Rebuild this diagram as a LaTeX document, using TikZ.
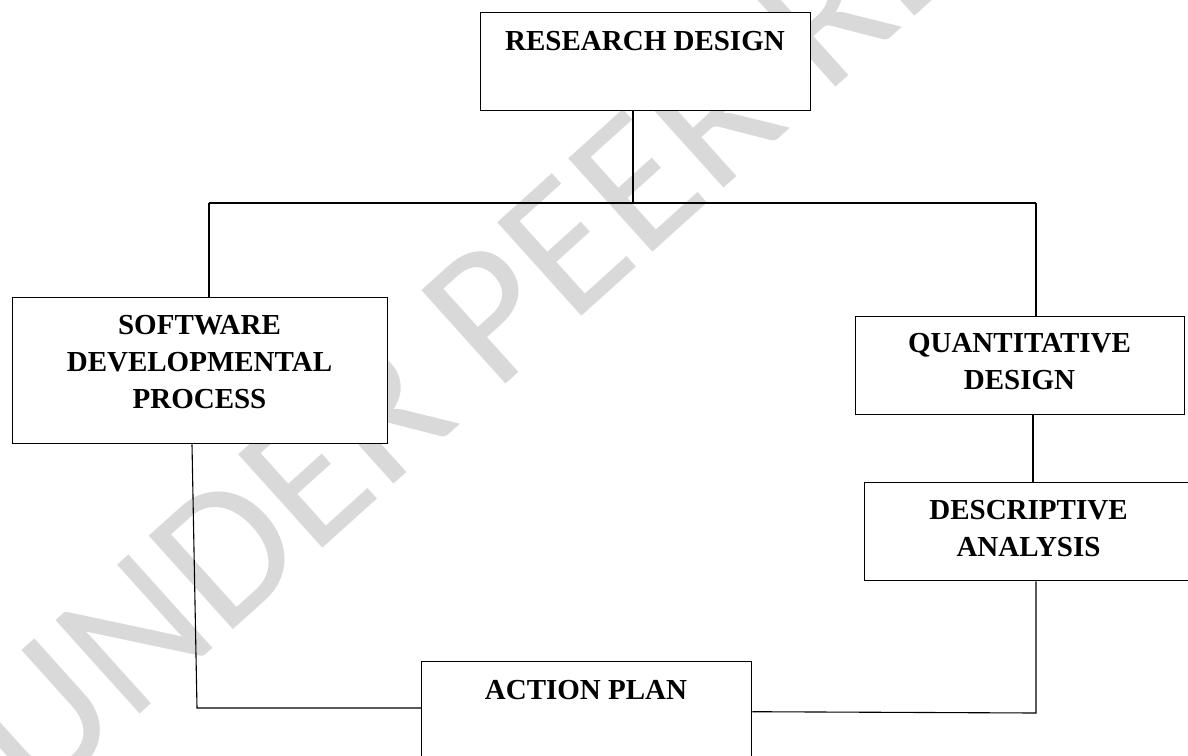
\documentclass[tikz,border=0pt]{standalone}
\usepackage{fontspec}
\setmainfont{Liberation Serif}
\newfontfamily\wmfont{Carlito}
\tikzset{
  x=1pt, y=-1pt,
  box/.style={draw=black, line width=1.4pt, fill=white, rectangle, inner sep=0pt, anchor=north west},
  lbl/.style={font=\bfseries\fontsize{29}{36.6}\selectfont, align=center, inner sep=0pt, anchor=north},
  link/.style={draw=black, line width=1.1pt},
  wm/.style={font=\wmfont\fontsize{196}{200}\selectfont, text=black!15, inner sep=0pt}
}
\begin{document}
\begin{tikzpicture}
\useasboundingbox (0,0) rectangle (1188,755);
\clip (0,0) rectangle (1188,755);
\fill[white] (0,0) rectangle (1188,755);
% watermark
\node[wm, rotate=42] (wmk) at (624,194) {UNDER PEER REVIEW};
% boxes
\node[box, minimum width=330pt, minimum height=98pt] (rd) at (480,12) {};
\node[box, minimum width=375pt, minimum height=146pt] (sw) at (12,297) {};
\node[box, minimum width=329pt, minimum height=98pt] (qd) at (855,316) {};
\node[box, minimum width=329pt, minimum height=98pt] (da) at (864,482) {};
\node[box, minimum width=330pt, minimum height=100pt] (ap) at (421,661) {};
% texts
\node[lbl] (rdt) at (645,31.5) {RESEARCH DESIGN};
\node[lbl] (swt) at (199.5,315.5) {SOFTWARE\\DEVELOPMENTAL\\PROCESS};
\node[lbl] (qdt) at (1019.5,333.5) {QUANTITATIVE\\DESIGN};
\node[lbl] (dat) at (1028.5,500.5) {DESCRIPTIVE\\ANALYSIS};
\node[lbl] (apt) at (586,680.5) {ACTION PLAN};
% connectors
\coordinate (jn) at (633,203);
\coordinate (jl) at (209,203);
\coordinate (jr) at (1036,203);
\coordinate (qx) at (1033,0);
\coordinate (dc) at (1036,713);
\coordinate (lx) at (192,0);
\coordinate (lc) at (197,708);
\draw[link] (rd.south -| jn) -- (jn);
\draw[link] (jl) -- (jr);
\draw[link] (jl) -- (jl |- sw.north);
\draw[link] (jr) -- (jr |- qd.north);
\draw[link] (qd.south -| qx) -- (da.north -| qx);
\draw[link] (da.south -| dc) -- (dc) -- (ap.east);
\draw[link] (sw.south -| lx) -- (lc) -- (lc -| ap.west);
\end{tikzpicture}
\end{document}
